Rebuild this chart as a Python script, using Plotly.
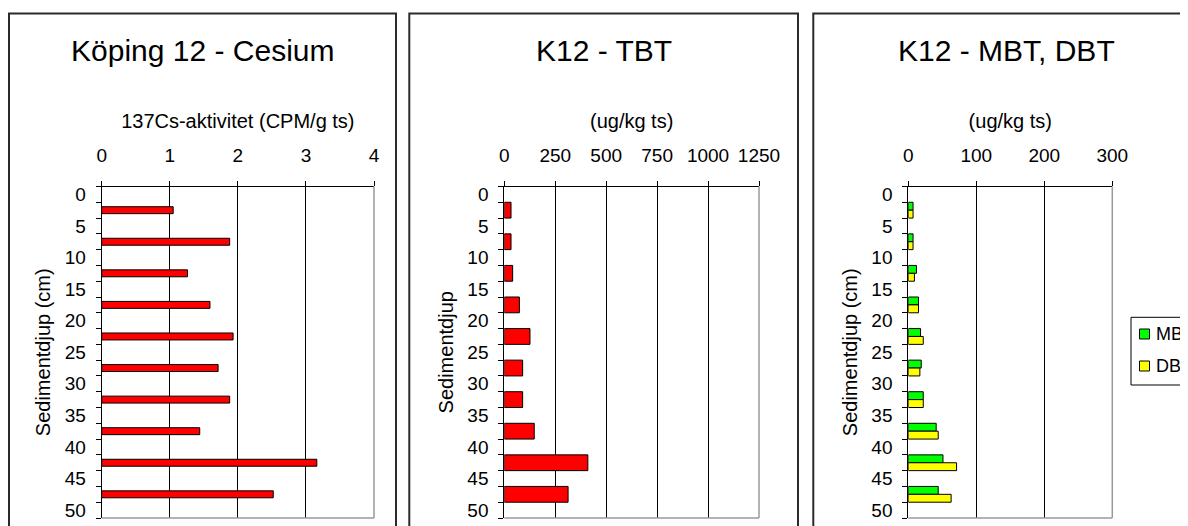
import plotly.graph_objects as go

# ---------------- data ----------------
depth = [2.5, 7.5, 12.5, 17.5, 22.5, 27.5, 32.5, 37.5, 42.5, 47.5]
depth_ticks = [0, 5, 10, 15, 20, 25, 30, 35, 40, 45, 50]
cesium = [1.05, 1.88, 1.26, 1.59, 1.93, 1.71, 1.88, 1.44, 3.16, 2.52]
tbt = [33, 33, 41, 74, 126, 90, 90, 147, 410, 313]
mbt = [7, 7, 12, 15, 18, 19, 22, 41, 51, 44]
dbt = [7, 7, 9, 15, 22, 17, 22, 44, 71, 63]
series_names = ["MBT", "DBT"]
series_colors = ["#00ff00", "#ffff00"]

titles = ["Köping 12 - Cesium", "K12 - TBT", "K12 - MBT, DBT"]
xtitles = ["137Cs-aktivitet (CPM/g ts)", "(ug/kg ts)", "(ug/kg ts)"]
ytitles = ["Sedimentdjup (cm)", "Sedimentdjup", "Sedimentdjup (cm)"]
xranges = [[0, 4], [0, 1250], [0, 300]]
xdticks = [1, 250, 100]

# ---------------- layout helpers ----------------
OFF = 8  # page body margin
W, H = 1188 - OFF, 526 - OFF
FONT = "Liberation Sans, Arial, sans-serif"

def px(x):
    return (x - OFF) / W

def py(y):
    return 1 - (y - OFF) / H

plot_x = [(101.7, 374.0), (504.3, 759.0), (908.3, 1112.3)]
plot_y = (186.5, 518.0)
frames = [(9, 396), (409.3, 798), (813.3, 1240)]
title_cx = [202.5, 604, 1006]

slot = 2.5
yrange = [depth_ticks[-1] + slot / 2, depth_ticks[0] - slot / 2]
boundaries = [depth_ticks[0] - slot / 2 + slot * i for i in range(22)]

fig = go.Figure()

line = dict(color="black", width=1)
fig.add_trace(go.Bar(y=depth, x=cesium, orientation="h", width=1.1,
                     marker=dict(color="#ff0000", line=line),
                     xaxis="x", yaxis="y", showlegend=False))
fig.add_trace(go.Bar(y=depth, x=tbt, orientation="h", width=2.5,
                     marker=dict(color="#ff0000", line=line),
                     xaxis="x2", yaxis="y2", showlegend=False))
fig.add_trace(go.Bar(y=depth, x=mbt, orientation="h", width=1.25, offset=-1.25,
                     name=series_names[0], showlegend=False,
                     marker=dict(color=series_colors[0], line=line),
                     xaxis="x3", yaxis="y3"))
fig.add_trace(go.Bar(y=depth, x=dbt, orientation="h", width=1.25, offset=0,
                     name=series_names[1], showlegend=False,
                     marker=dict(color=series_colors[1], line=line),
                     xaxis="x3", yaxis="y3"))

layout = dict(
    width=W, height=H,
    margin=dict(l=0, r=0, t=0, b=0, autoexpand=False),
    paper_bgcolor="white", plot_bgcolor="white",
    font=dict(family=FONT, color="black", size=19),
    barmode="overlay",
    showlegend=False,
)

shapes = []
annotations = []
for i in range(3):
    sx = "" if i == 0 else str(i + 1)
    layout["xaxis" + sx] = dict(
        domain=[px(plot_x[i][0]), px(plot_x[i][1])],
        anchor="y" + sx, side="top", range=xranges[i], dtick=xdticks[i],
        tick0=0, showgrid=True, gridcolor="black", gridwidth=1,
        zeroline=False, showline=True, linecolor="black", linewidth=1,
        ticks="outside", ticklen=5, tickcolor="black",
        tickfont=dict(size=19), ticklabelstandoff=11,
        title=dict(text=xtitles[i], font=dict(size=20), standoff=10),
        fixedrange=True,
    )
    layout["yaxis" + sx] = dict(
        domain=[py(plot_y[1]), py(plot_y[0])],
        anchor="x" + sx, range=yrange, tickmode="array",
        tickvals=depth_ticks, ticktext=[str(v) for v in depth_ticks],
        ticks="", showgrid=False, zeroline=False,
        showline=True, linecolor="black", linewidth=1,
        tickfont=dict(size=19), ticklabelstandoff=11,
        minor=dict(tickmode="array", tickvals=boundaries, ticks="outside",
                   ticklen=5, tickcolor="black", showgrid=False),
        title=dict(text=ytitles[i], font=dict(size=20), standoff=8),
        fixedrange=True,
    )
    # gray right and bottom borders of plot area
    shapes.append(dict(type="line", xref="x" + sx + " domain", yref="y" + sx + " domain",
                       x0=1, x1=1, y0=0, y1=1, line=dict(color="#9a9a9a", width=1.5)))
    shapes.append(dict(type="line", xref="x" + sx + " domain", yref="y" + sx + " domain",
                       x0=0, x1=1, y0=0, y1=0, line=dict(color="#9a9a9a", width=1.5)))
    # chart-area frame
    shapes.append(dict(type="rect", xref="paper", yref="paper",
                       x0=px(frames[i][0]), x1=px(frames[i][1]),
                       y0=-0.2, y1=py(13.5),
                       line=dict(color="#2a2a2a", width=2), layer="below"))
    annotations.append(dict(text=titles[i], xref="paper", yref="paper",
                            x=px(title_cx[i]), y=py(51), xanchor="center",
                            yanchor="middle", showarrow=False,
                            font=dict(size=30, family=FONT)))

# legend box for the MBT / DBT panel (partly outside the picture, as in the original)
shapes.append(dict(type="rect", xref="paper", yref="paper",
                   x0=px(1131), x1=px(1260), y0=py(385), y1=py(317.3),
                   line=dict(color="black", width=1), fillcolor="white"))
leg_cy = [334, 366]
for k in range(2):
    shapes.append(dict(type="rect", xref="paper", yref="paper",
                       x0=px(1139.5), x1=px(1149.5),
                       y0=py(leg_cy[k] + 5), y1=py(leg_cy[k] - 5),
                       line=dict(color="black", width=1), fillcolor=series_colors[k]))
    annotations.append(dict(text=series_names[k], xref="paper", yref="paper",
                            x=px(1154), y=py(leg_cy[k]), xanchor="left",
                            yanchor="middle", showarrow=False,
                            font=dict(size=18, family=FONT)))

layout["shapes"] = shapes
layout["annotations"] = annotations
fig.update_layout(**layout)

fig.write_html("out.html")
